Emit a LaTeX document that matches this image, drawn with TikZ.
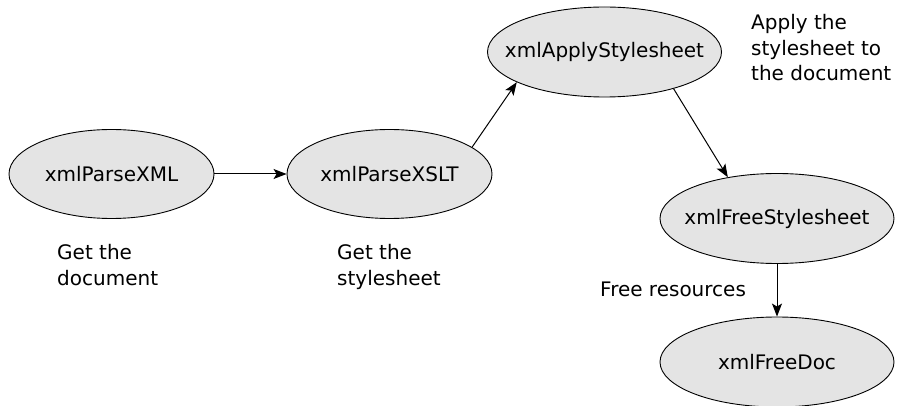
\documentclass[tikz,border=0pt]{standalone}
\usepackage{fontspec}
\setmainfont{DejaVu Sans}
\usetikzlibrary{shapes.geometric,arrows.meta}
\definecolor{boxgray}{RGB}{228,228,228}
\begin{document}
\begin{tikzpicture}[x=1pt,y=-1pt,
  blob/.style={ellipse, draw=black, line width=0.9pt, fill=boxgray, inner sep=0pt},
  smallblob/.style={blob, minimum width=205pt, minimum height=89pt},
  bigblob/.style={blob, minimum width=234pt, minimum height=90pt},
  txt/.style={font=\fontsize{20}{25.5}\selectfont, inner sep=0pt},
  note/.style={txt, align=left, anchor=north west},
  conn/.style={-{Stealth[length=13pt,width=10pt,inset=3pt]}, line width=1pt}]
\useasboundingbox (0,0) rectangle (900,406);

\node[smallblob] (px) at (111.5,174) {};
\node[smallblob] (ps) at (389.5,174) {};
\node[bigblob] (ap) at (604.5,52) {};
\node[bigblob] (fs) at (777,218.5) {};
\node[bigblob] (fd) at (777,362) {};

\node[txt] (pxt) at (px) {xmlParseXML};
\node[txt] (pst) at (ps) {xmlParseXSLT};
\node[txt] (apt) at (ap) {xmlApplyStylesheet};
\node[txt] (fst) at (fs) {xmlFreeStylesheet};
\node[txt] (fdt) at (fd) {xmlFreeDoc};

\node[note] (n1) at (57,244.5) {Get the\\document};
\node[note] (n2) at (337,244.5) {Get the\\stylesheet};
\node[note] (n3) at (751,14.5) {Apply the\\stylesheet to\\the document};
\node[txt, anchor=base west] (n4) at (600,296) {Free resources};

\draw[conn] (px) -- (ps);
\draw[conn] (ps.18) -- (ap.199);
\draw[conn] (ap.-28) -- (fs.140);
\draw[conn] (fs) -- (fd);
\end{tikzpicture}
\end{document}
